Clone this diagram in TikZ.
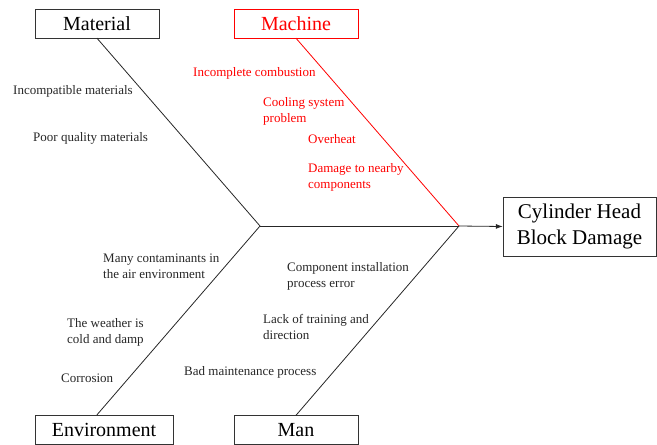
\documentclass[tikz,border=0pt]{standalone}
\usepackage{fontspec}
\setmainfont{Liberation Serif}
\newfontfamily\timesfont{Liberation Serif}
\usetikzlibrary{arrows.meta}
\tikzstyle{category} = [rectangle, draw=black!80, minimum width=124pt, minimum height=29pt, inner sep=0pt, text=black, font=\timesfont\fontsize{20}{24}\selectfont]
\tikzstyle{effect} = [rectangle, draw=black!80, minimum width=153pt, minimum height=59pt, inner sep=0pt, align=center, text=black, font=\timesfont\fontsize{21}{26}\selectfont]
\tikzstyle{cause} = [anchor=west, align=left, inner sep=0pt, text=black!85, font=\timesfont\fontsize{13}{16}\selectfont]
\tikzstyle{bone} = [draw=black!85, line width=0.8pt]
\tikzstyle{arrow} = [bone, -{Latex[length=7pt,width=5pt]}]

\begin{document}
\begin{tikzpicture}[x=1pt, y=-1pt]
\useasboundingbox (0,0) rectangle (657,445);

% categories and effect
\node (material) [category] at (97,23.5) {Material};
\node (machine) [category, draw=red, text=red] at (296,23.5) {Machine};
\node (env) [category, minimum width=138pt] at (104,429.5) {Environment};
\node (man) [category] at (296,430) {Man};
\node (effect) [effect] at (579.5,226.5) {Cylinder Head\\Block Damage};

\coordinate (head) at (260,226);
\coordinate (tail) at (459,226);

% causes
\node (incompat) [cause] at (13,91) {Incompatible materials};
\node (poorqual) [cause] at (33,138) {Poor quality materials};
\node (combust) [cause, text=red] at (193,73) {Incomplete combustion};
\node (cooling) [cause, text=red] at (263,111) {Cooling system\\problem};
\node (overheat) [cause, text=red] at (308,139) {Overheat};
\node (nearby) [cause, text=red] at (308,177) {Damage to nearby\\components};
\node (contam) [cause] at (103,266.5) {Many contaminants in\\the air environment};
\node (weather) [cause] at (67,332.5) {The weather is\\cold and damp};
\node (corrosion) [cause] at (61,378) {Corrosion};
\node (install) [cause] at (287,276) {Component installation\\process error};
\node (training) [cause] at (263,327) {Lack of training and\\direction};
\node (maint) [cause] at (184,372) {Bad maintenance process};

% bones
\draw [bone] (material.south) -- (head);
\draw [bone] (head) -- (env.north -| material.south);
\draw [bone] (head) -- (tail);
\draw [bone, draw=red] (machine.south) -- (tail);
\draw [bone] (tail) -- (man.north);
\draw [arrow] (tail) -- (effect.west);

\end{tikzpicture}
\end{document}
